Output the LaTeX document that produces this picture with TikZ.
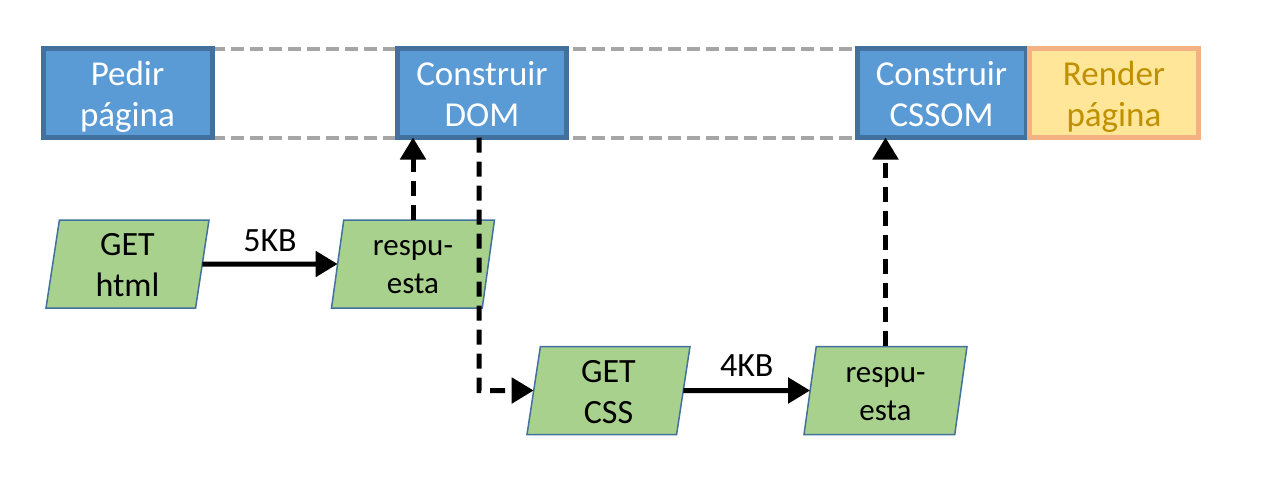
\documentclass[tikz,border=0pt]{standalone}
\usepackage{fontspec}
\setmainfont{Carlito}
\usetikzlibrary{shapes.geometric,arrows.meta,backgrounds}
\definecolor{bluefill}{HTML}{5B9BD5}
\definecolor{blueedge}{HTML}{41719C}
\definecolor{greenfill}{HTML}{A9D18E}
\definecolor{yellowfill}{HTML}{FFE699}
\definecolor{orangeedge}{HTML}{F4B183}
\definecolor{goldtext}{HTML}{BF9000}
\definecolor{grayline}{HTML}{A6A6A6}
\tikzset{
  stagebox/.style={draw=blueedge, fill=bluefill, line width=5pt, text=white,
    minimum width=169pt, minimum height=89pt, inner sep=0pt, outer sep=0pt,
    align=center, font=\fontsize{35}{41}\selectfont,
    text height=68pt, text depth=2pt},
  renderbox/.style={stagebox, draw=orangeedge, fill=yellowfill, text=goldtext},
  para/.style={trapezium, trapezium left angle=79, trapezium right angle=101,
    trapezium stretches body, draw=blueedge, fill=greenfill, line width=1.5pt,
    minimum width=163pt, minimum height=88pt, inner sep=0pt, outer sep=0pt,
    align=center, font=\fontsize{34}{41}\selectfont,
    text height=67pt, text depth=2pt},
  smalltext/.style={font=\fontsize{31}{38}\selectfont,
    text height=61pt, text depth=2pt},
  guide/.style={draw=grayline, line width=4pt, dash pattern=on 13pt off 6pt},
  flow/.style={line width=5pt, -{Triangle[length=22pt,width=25pt]}},
  dflow/.style={flow, dash pattern=on 15pt off 9pt},
  lbl/.style={font=\fontsize{34}{40}\selectfont, inner sep=0pt}
}
\begin{document}
\begin{tikzpicture}[x=1pt,y=-1pt]
\useasboundingbox (0,0) rectangle (1262,480);
\node[stagebox] (pedir) at (127.5,93) {Pedir\\página};
\node[stagebox] (dom) at (482,93) {Construir\\DOM};
\node[stagebox] (cssom) at (941.5,93) {Construir\\CSSOM};
\node[renderbox] (render) at (1114,93) {Render\\página};
\begin{scope}[on background layer]
\draw[guide] (pedir.north east) -- (cssom.north west);
\draw[guide] (pedir.south east) -- (cssom.south west);
\end{scope}
\node[para] (gethtml) at (127.5,264) {GET\\html};
\node[para, smalltext] (resp1) at (413,264) {respu-\\esta};
\node[para] (getcss) at (608.5,390.5) {GET\\CSS};
\node[para, smalltext] (resp2) at (885.5,390.5) {respu-\\esta};
\coordinate (turn) at (479,390.5);
\draw[flow] (gethtml.east) -- node[lbl, above=10pt] (l5) {5KB} (resp1.west);
\draw[flow] (getcss.east) -- node[lbl, above=12pt] (l4) {4KB} (resp2.west);
\draw[dflow] (resp1.north) -- (resp1.north |- dom.south);
\draw[dflow] (resp2.north) -- (resp2.north |- cssom.south);
\draw[dflow] (dom.south -| turn) -- (turn) -- (getcss.west);
\end{tikzpicture}
\end{document}
